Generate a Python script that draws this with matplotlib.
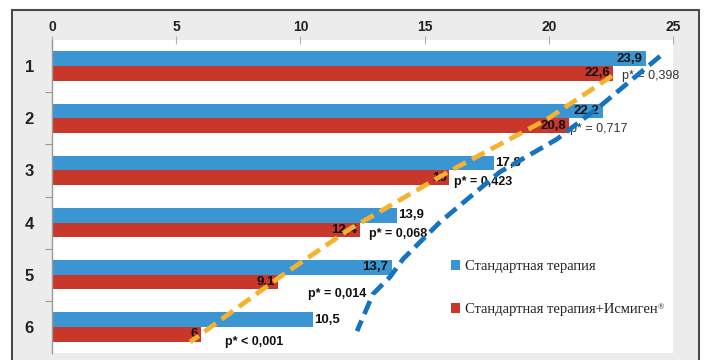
import numpy as np
import matplotlib
matplotlib.use("Agg")
import matplotlib.pyplot as plt
from matplotlib.patches import Rectangle

# --- data ---------------------------------------------------------------
groups = ["1", "2", "3", "4", "5", "6"]
standard = [23.9, 22.2, 17.8, 13.9, 13.7, 10.5]
combined = [22.6, 20.8, 16.0, 12.4, 9.1, 6.0]
standard_labels = ["23,9", "22,2", "17,8", "13,9", "13,7", "10,5"]
combined_labels = ["22,6", "20,8", "16", "12,4", "9,1", "6"]
p_values = ["p* = 0,398", "p* = 0,717", "p* = 0,423",
            "p* = 0,068", "p* = 0,014", "p* < 0,001"]
x_ticks = [0, 5, 10, 15, 20, 25]
series_names = ["Стандартная терапия", "Стандартная терапия+Исмиген"]
trademark = "\u00ae"

# hand-drawn trend guides (value, group position)
trend_standard_x = [24.48, 22.06, 20.33, 18.03, 15.62, 14.13, 13.61, 12.92, 12.28]
trend_standard_y = [0.81, 1.77, 2.40, 3.03, 3.99, 4.70, 5.04, 5.37, 6.08]
trend_combined_x = [22.54, 19.93, 16.02, 12.00, 9.18, 5.56]
trend_combined_y = [1.19, 2.02, 3.01, 4.12, 5.04, 6.29]

# --- styling ------------------------------------------------------------
BLUE = "#3b95d3"
RED = "#c8372a"
ORANGE = "#f5b22e"
DARK_BLUE = "#1673bd"
W, H = 704, 360

fig = plt.figure(figsize=(W / 100, H / 100), dpi=100)
fig.patch.set_facecolor("white")

# grey panel with a dark border, behind the axes
fig.patches.append(Rectangle((12 / W, -10 / H), 687 / W, H / H,
                             transform=fig.transFigure, facecolor="#ececec",
                             edgecolor="#4a4a4a", linewidth=1.5, zorder=-5))

ax = fig.add_axes([52 / W, 7 / H, 621 / W, 313 / H])
ax.set_facecolor("white")

rows = np.arange(1, len(groups) + 1)
bar_h = 0.28
b1 = ax.barh(rows - 0.14, standard, height=bar_h, color=BLUE, zorder=2,
             label=series_names[0])
b2 = ax.barh(rows + 0.14, combined, height=bar_h, color=RED, zorder=2,
             label=series_names[1])

ax.set_xlim(0, 25)
ax.set_ylim(6.5, 0.5)

# value labels
label_font = dict(fontsize=9.5, fontweight="bold", family="Liberation Sans",
                  color="#111111", zorder=3)
outside = [False, False, True, True, False, True]
for r, v, s, out in zip(rows, standard, standard_labels, outside):
    if out:
        ax.text(v + 0.05, r - 0.14, s, ha="left", va="center", **label_font)
    else:
        ax.text(v - 0.15, r - 0.14, s, ha="right", va="center", **label_font)
for r, v, s in zip(rows, combined, combined_labels):
    ax.text(v - 0.12, r + 0.14, s, ha="right", va="center", **label_font)

# p-value annotations next to the combined-therapy bars
p_dx = [0.34, 0.05, 0.2, 0.36, 1.2, 0.96]
p_dy = [0.19, 0.21, 0.23, 0.22, 0.36, 0.29]
p_bold = [False, False, True, True, True, True]
for r, v, s, dx, dy, b in zip(rows, combined, p_values, p_dx, p_dy, p_bold):
    ax.text(v + dx, r + dy, s, ha="left", va="center", fontsize=9,
            fontweight="bold" if b else "normal", family="Liberation Sans",
            color="#111111" if b else "#333333", zorder=3)

# dashed trend guides
ax.plot(trend_combined_x, trend_combined_y, color=ORANGE, lw=3.4,
        dashes=(3.0, 1.5), solid_capstyle="butt", dash_capstyle="butt",
        zorder=5, clip_on=False)
ax.plot(trend_standard_x, trend_standard_y, color=DARK_BLUE, lw=3.4,
        dashes=(3.0, 1.5), solid_capstyle="butt", dash_capstyle="butt",
        zorder=5, clip_on=False)

# axes
for side in ["top", "right", "bottom"]:
    ax.spines[side].set_visible(False)
ax.spines["left"].set_color("#9a9a9a")
ax.spines["left"].set_linewidth(1.0)

ax.xaxis.set_ticks_position("top")
ax.set_xticks(x_ticks)
ax.set_xticklabels([str(t) for t in x_ticks])
ax.tick_params(axis="x", direction="inout", length=6, width=0.8,
               color="#b0b0b0", pad=1.5, labelsize=10)
for t in ax.get_xticklabels():
    t.set_fontweight("bold")
    t.set_family("Liberation Sans")
    t.set_color("#222222")

ax.set_yticks(rows)
ax.set_yticklabels(groups)
ax.set_yticks(np.arange(1.5, 6.0, 1.0), minor=True)
ax.tick_params(axis="y", which="major", length=0, pad=13, labelsize=12)
ax.tick_params(axis="y", which="minor", direction="out", length=5,
               width=0.8, color="#9a9a9a")
for t in ax.get_yticklabels():
    t.set_fontweight("bold")
    t.set_family("Liberation Sans")
    t.set_color("#222222")

leg = ax.legend(handles=[b1, b2], loc="center left",
                bbox_to_anchor=(0.6425, 0.208), frameon=False,
                handlelength=0.65, handleheight=0.65, handletextpad=0.3,
                labelspacing=2.05, borderpad=0, borderaxespad=0,
                prop={"family": "Liberation Serif", "size": 10.5})
for txt in leg.get_texts():
    txt.set_color("#222222")

# small registered-trademark sign after the second legend entry
fig.canvas.draw()
bb = leg.get_texts()[1].get_window_extent(fig.canvas.get_renderer())
fig.text((bb.x1 + 0.5) / W, (bb.y1 - 1) / H, trademark, fontsize=6,
         family="Liberation Serif", color="#222222", ha="left", va="top")

fig.savefig("out.png", dpi=100, facecolor=fig.get_facecolor())
